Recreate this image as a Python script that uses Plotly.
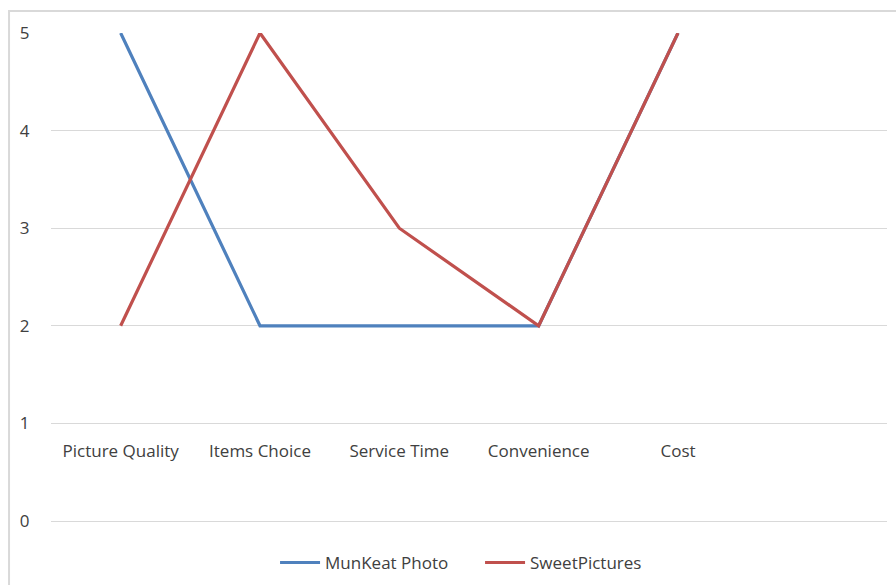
import plotly.graph_objects as go

# Survey ratings per criterion (scale 0-5)
categories = ["Picture Quality", "Items Choice", "Service Time", "Convenience", "Cost"]
munkeat_photo = [5, 2, 2, 2, 5]
sweet_pictures = [2, 5, 3, 2, 5]
y_ticks = [0, 1, 2, 3, 4, 5]

text_color = "#404040"
grid_color = "#d9d9d9"
font_family = "Open Sans, Liberation Sans, sans-serif"
font_size = 17

fig = go.Figure()
fig.add_trace(go.Scatter(
    x=categories, y=munkeat_photo, mode="lines", name="MunKeat Photo",
    line=dict(color="#4f81bd", width=3.2),
))
fig.add_trace(go.Scatter(
    x=categories, y=sweet_pictures, mode="lines", name="SweetPictures",
    line=dict(color="#c0504d", width=3.2),
))

fig.update_layout(
    width=896, height=585,
    margin=dict(l=51, r=9, t=33, b=64, autoexpand=False),
    paper_bgcolor="white", plot_bgcolor="white",
    font=dict(family=font_family, size=font_size, color=text_color),
    showlegend=True,
    legend=dict(orientation="h", x=0.268, xanchor="left", y=-0.086, yanchor="middle",
                font=dict(size=font_size, color=text_color), itemwidth=40,
                entrywidth=150, bgcolor="rgba(0,0,0,0)"),
    xaxis=dict(
        type="category", categoryorder="array", categoryarray=categories,
        range=[-0.5, 5.5], showgrid=False, zeroline=False, showline=False,
        anchor="free", position=0.2,
        ticks="outside", ticklen=12, tickcolor="rgba(0,0,0,0)",
        tickfont=dict(size=font_size, color=text_color),
    ),
    yaxis=dict(
        range=[0, 5], tickvals=y_ticks, showgrid=True, gridcolor=grid_color,
        gridwidth=1, zeroline=True, zerolinecolor=grid_color, zerolinewidth=1,
        showline=False,
        ticks="outside", ticklen=17, tickcolor="rgba(0,0,0,0)",
        tickfont=dict(size=font_size, color=text_color),
    ),
)

# Chart area frame
fig.add_shape(type="rect", xref="paper", yref="paper",
              x0=-0.0502, x1=1.03, y0=-0.2, y1=1.045,
              line=dict(color=grid_color, width=2), fillcolor="rgba(0,0,0,0)",
              layer="below")

fig.write_html("out.html")
